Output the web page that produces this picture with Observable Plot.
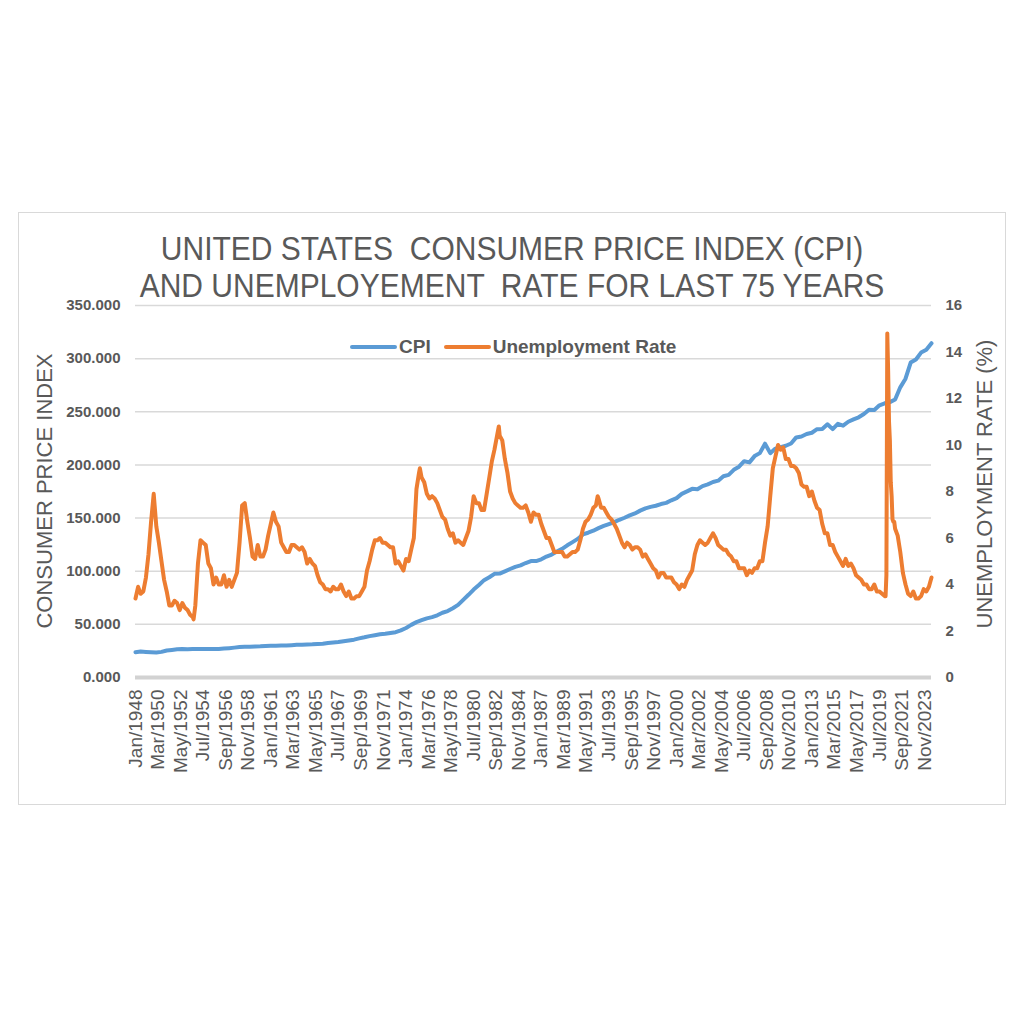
<!DOCTYPE html>
<html>
<head>
<meta charset="utf-8">
<script src="https://cdn.jsdelivr.net/npm/d3@7"></script>
<script src="https://cdn.jsdelivr.net/npm/@observablehq/plot@0.6"></script>
<style>
  html, body { margin: 0; padding: 0; background: #ffffff; }
  #page { position: relative; width: 1024px; height: 1024px; overflow: hidden; font-family: "Liberation Sans", Arial, sans-serif; color: #595959; }
  #box { position: absolute; left: 18px; top: 212px; width: 986px; height: 591px; border: 1.5px solid #d9d9d9; }
  #title { position: absolute; left: 0; width: 1024px; top: 231px; text-align: center; font-size: 30px; line-height: 34px; white-space: pre; color: #595959; transform: scaleY(1.08); transform-origin: 50% 0; }
  #chart { position: absolute; left: 0; top: 212px; }
  .ytitle { position: absolute; font-size: 22px; white-space: nowrap; color: #595959; transform: translate(-50%, -50%) rotate(-90deg); }
  #legend { position: absolute; top: 336px; left: 350px; height: 22px; display: flex; align-items: center; font-size: 19px; font-weight: bold; color: #595959; }
  .sw { display: inline-block; width: 47px; height: 4px; border-radius: 2px; }
</style>
</head>
<body>
<div id="page">
  <div id="box"></div>
  <div id="title"></div>
  <div id="chart"></div>
  <div class="ytitle" id="ylabL" style="left:45px; top:491px;"></div>
  <div class="ytitle" id="ylabR" style="left:985px; top:484px;"></div>
  <div id="legend"></div>
</div>
<script>
// ---- Text ----
const titleLines = ["UNITED STATES  CONSUMER PRICE INDEX (CPI)", "AND UNEMPLOYEMENT  RATE FOR LAST 75 YEARS"];
const leftAxisTitle = "CONSUMER PRICE INDEX";
const rightAxisTitle = "UNEMPLOYMENT RATE (%)";
const seriesNames = ["CPI", "Unemployment Rate"];
const seriesColors = ["#5B9BD5", "#ED7D31"];

// ---- Tick labels ----
const xTickLabels = ["Jan/1948","Mar/1950","May/1952","Jul/1954","Sep/1956","Nov/1958","Jan/1961","Mar/1963","May/1965","Jul/1967","Sep/1969","Nov/1971","Jan/1974","Mar/1976","May/1978","Jul/1980","Sep/1982","Nov/1984","Jan/1987","Mar/1989","May/1991","Jul/1993","Sep/1995","Nov/1997","Jan/2000","Mar/2002","May/2004","Jul/2006","Sep/2008","Nov/2010","Jan/2013","Mar/2015","May/2017","Jul/2019","Sep/2021","Nov/2023"];
const leftTicks = [0, 50, 100, 150, 200, 250, 300, 350];
const rightTicks = [0, 2, 4, 6, 8, 10, 12, 14, 16];

// ---- CPI: [year, January, July] ----
const cpiJanJul = [
  [1948,23.7,24.4],[1949,24.0,23.7],[1950,23.5,24.1],[1951,25.4,25.9],[1952,26.5,26.7],
  [1953,26.6,26.8],[1954,26.9,26.9],[1955,26.7,26.8],[1956,26.8,27.2],[1957,27.6,28.1],
  [1958,28.6,29.0],[1959,29.0,29.2],[1960,29.3,29.6],[1961,29.8,29.9],[1962,30.0,30.2],
  [1963,30.4,30.7],[1964,30.9,31.0],[1965,31.2,31.6],[1966,31.8,32.5],[1967,32.9,33.4],
  [1968,34.1,34.9],[1969,35.6,36.8],[1970,37.8,38.9],[1971,39.8,40.6],[1972,41.1,41.9],
  [1973,42.6,44.3],[1974,46.6,49.5],[1975,52.1,53.9],[1976,55.6,56.8],[1977,58.5,60.9],
  [1978,62.5,65.2],[1979,68.3,73.1],[1980,77.8,82.7],[1981,87.0,91.6],[1982,94.3,97.5],
  [1983,97.8,99.9],[1984,102.1,104.1],[1985,105.5,107.7],[1986,109.6,109.5],[1987,111.2,113.8],
  [1988,115.7,118.5],[1989,121.1,124.4],[1990,127.4,130.4],[1991,134.6,136.2],[1992,138.1,140.5],
  [1993,142.6,144.4],[1994,146.2,148.4],[1995,150.3,152.5],[1996,154.4,157.0],[1997,159.1,160.5],
  [1998,161.6,163.2],[1999,164.3,166.7],[2000,168.8,172.8],[2001,175.1,177.5],[2002,177.1,180.1],
  [2003,181.7,183.9],[2004,185.2,189.4],[2005,190.7,195.4],[2006,198.3,203.5],[2007,202.4,208.3],
  [2008,211.1,220.0],[2009,211.1,215.4],[2010,216.7,218.0],[2011,220.2,225.9],[2012,226.7,229.1],
  [2013,230.3,233.6],[2014,233.9,238.3],[2015,233.7,238.7],[2016,236.9,240.6],[2017,242.8,244.8],
  [2018,247.9,252.0],[2019,251.7,256.1],[2020,258.0,259.1],[2021,261.6,273.0],[2022,281.1,296.3],
  [2023,299.2,305.7],[2024,308.4,314.5]
];

// ---- Unemployment rate (%): [year, Jan, Apr, Jul, Oct] ----
const unemploymentQuarterly = [
  [1948,3.4,3.9,3.6,3.7],[1949,4.3,5.3,6.7,7.9],[1950,6.5,5.8,5.0,4.2],[1951,3.7,3.1,3.1,3.3],
  [1952,3.2,2.9,3.2,3.0],[1953,2.9,2.7,2.6,3.1],[1954,4.9,5.9,5.8,5.7],[1955,4.9,4.7,4.0,4.3],
  [1956,4.0,4.0,4.4,3.9],[1957,4.2,3.9,4.2,4.5],[1958,5.8,7.4,7.5,6.7],[1959,6.0,5.2,5.1,5.7],
  [1960,5.2,5.2,5.5,6.1],[1961,6.6,7.1,6.7,6.5],[1962,5.8,5.6,5.4,5.4],[1963,5.7,5.7,5.6,5.5],
  [1964,5.6,5.4,4.9,5.1],[1965,4.9,4.8,4.4,4.1],[1966,4.0,3.8,3.8,3.7],[1967,3.9,3.8,3.8,4.0],
  [1968,3.7,3.5,3.7,3.4],[1969,3.4,3.5,3.5,3.7],[1970,3.9,4.6,5.0,5.5],[1971,5.9,5.9,6.0,5.8],
  [1972,5.8,5.7,5.6,5.6],[1973,4.9,5.0,4.8,4.6],[1974,5.1,5.0,5.5,6.0],[1975,8.1,8.8,8.6,8.4],
  [1976,7.9,7.7,7.8,7.7],[1977,7.5,7.2,6.9,6.8],[1978,6.4,6.1,6.2,5.8],[1979,5.9,5.8,5.7,6.0],
  [1980,6.3,6.9,7.8,7.5],[1981,7.5,7.2,7.2,7.9],[1982,8.6,9.3,9.8,10.4],[1983,10.4,10.2,9.4,8.8],
  [1984,8.0,7.7,7.5,7.4],[1985,7.3,7.3,7.4,7.1],[1986,6.7,7.1,7.0,7.0],[1987,6.6,6.3,6.0,6.0],
  [1988,5.7,5.4,5.4,5.4],[1989,5.4,5.2,5.2,5.3],[1990,5.4,5.4,5.5,5.9],[1991,6.4,6.7,6.8,7.0],
  [1992,7.3,7.4,7.7,7.3],[1993,7.3,7.1,6.9,6.8],[1994,6.6,6.4,6.1,5.8],[1995,5.6,5.8,5.7,5.5],
  [1996,5.6,5.6,5.5,5.2],[1997,5.3,5.1,4.9,4.7],[1998,4.6,4.3,4.5,4.5],[1999,4.3,4.3,4.3,4.1],
  [2000,4.0,3.8,4.0,3.9],[2001,4.2,4.4,4.6,5.3],[2002,5.7,5.9,5.8,5.7],[2003,5.8,6.0,6.2,6.0],
  [2004,5.7,5.6,5.5,5.5],[2005,5.3,5.2,5.0,5.0],[2006,4.7,4.7,4.7,4.4],[2007,4.6,4.5,4.7,4.7],
  [2008,5.0,5.0,5.8,6.5],[2009,7.8,9.0,9.5,10.0],[2010,9.8,9.9,9.4,9.4],[2011,9.1,9.1,9.0,8.8],
  [2012,8.3,8.2,8.2,7.8],[2013,8.0,7.6,7.3,7.2],[2014,6.6,6.2,6.2,5.7],[2015,5.7,5.4,5.2,5.0],
  [2016,4.8,5.1,4.8,4.9],[2017,4.7,4.4,4.3,4.2],[2018,4.0,4.0,3.8,3.8],[2019,4.0,3.7,3.7,3.6],
  [2021,6.4,6.1,5.4,4.5],[2022,4.0,3.6,3.5,3.7],[2023,3.4,3.4,3.5,3.8],[2024,3.7,3.9,4.3]
];
// 2020 monthly (Jan..Dec)
const unemployment2020Monthly = [3.5,3.5,4.4,14.8,13.2,11.0,10.2,8.4,7.8,6.8,6.7,6.7];
// extra turning-point months: [year, monthIndex, value]
const unemploymentPeaks = [[1975,4,9.0],[1982,11,10.8],[1992,5,7.8],[1953,7,2.5]];

// ---- Build tables ----
const D = (y, m) => new Date(Date.UTC(y, m, 1));
const cpi = [];
for (const [y, jan, jul] of cpiJanJul) { cpi.push({date: D(y, 0), value: jan}); cpi.push({date: D(y, 6), value: jul}); }
const unemp = [];
for (const row of unemploymentQuarterly) {
  const y = row[0];
  row.slice(1).forEach((v, q) => unemp.push({date: D(y, q * 3), value: v}));
}
unemployment2020Monthly.forEach((v, i) => unemp.push({date: D(2020, i), value: v}));
unemploymentPeaks.forEach(([y, m, v]) => unemp.push({date: D(y, m), value: v}));
unemp.sort((a, b) => a.date - b.date);

const parseTick = d3.utcParse("%b/%Y");
const tickDates = xTickLabels.map(parseTick);
const k = 350 / 16; // right-axis value -> left-axis units

// ---- HTML text ----
document.getElementById("title").textContent = titleLines.join("\n");
document.getElementById("ylabL").textContent = leftAxisTitle;
document.getElementById("ylabR").textContent = rightAxisTitle;
const legend = document.getElementById("legend");
seriesNames.forEach((name, i) => {
  const sw = document.createElement("span"); sw.className = "sw"; sw.style.background = seriesColors[i];
  const tx = document.createElement("span"); tx.textContent = name;
  tx.style.marginLeft = "2px"; tx.style.marginRight = i === 0 ? "13px" : "0";
  legend.appendChild(sw); legend.appendChild(tx);
});

// ---- Chart ----
const chart = Plot.plot({
  width: 1024,
  height: 593,
  marginTop: 93,
  marginBottom: 128,
  marginLeft: 135,
  marginRight: 93,
  style: {fontFamily: "'Liberation Sans', Arial, sans-serif", color: "#595959", background: "transparent", overflow: "visible"},
  x: {type: "utc", domain: [D(1948, 0), D(2024, 6)]},
  y: {domain: [0, 350]},
  marks: [
    Plot.ruleY(leftTicks.filter(v => v > 0), {stroke: "#d9d9d9", strokeWidth: 1.5}),
    Plot.ruleY([0], {stroke: "#d2d2d2", strokeWidth: 4}),
    Plot.axisY({ticks: leftTicks, tickFormat: d3.format(".3f"), tickSize: 0, tickPadding: 15, fontSize: 15, fontWeight: "bold", label: null}),
    Plot.axisY({anchor: "right", ticks: rightTicks.map(v => v * k), tickFormat: d => String(Math.round(d / k)), tickSize: 0, tickPadding: 14, fontSize: 15, fontWeight: "bold", label: null}),
    Plot.axisX({ticks: tickDates, tickFormat: d3.utcFormat("%b/%Y"), tickRotate: -90, tickSize: 0, tickPadding: 12, fontSize: 19, label: null}),
    Plot.lineY(cpi, {x: "date", y: "value", stroke: seriesColors[0], strokeWidth: 4, strokeLinejoin: "round"}),
    Plot.lineY(unemp, {x: "date", y: d => d.value * k, stroke: seriesColors[1], strokeWidth: 4, strokeLinejoin: "round"})
  ]
});
document.getElementById("chart").appendChild(chart);
</script>
</body>
</html>
